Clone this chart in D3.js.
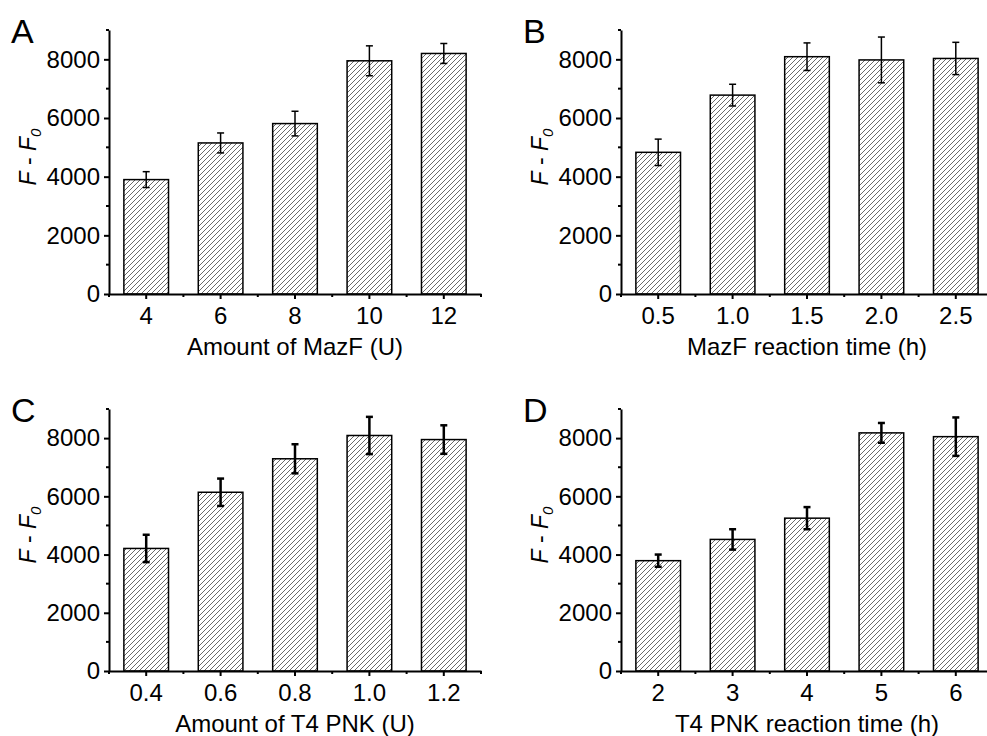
<!DOCTYPE html>
<meta charset="utf-8">
<style>
body { margin: 0; background: #fff; }
svg { display: block; font-family: "Liberation Sans", Arial, sans-serif; }
.axis path, .axis line { stroke: #000; }
</style>
<body>
<div id="chart"></div>
<script src="https://cdnjs.cloudflare.com/ajax/libs/d3/7.8.5/d3.min.js"></script>
<script>

var width = 987;
var height = 736;

// Data
var catsA = ["4", "6", "8", "10", "12"];
var valsA = [3900, 5150, 5810, 7950, 8200];
var errA  = [270, 340, 420, 510, 340];

var catsB = ["0.5", "1.0", "1.5", "2.0", "2.5"];
var valsB = [4830, 6780, 8090, 7980, 8030];
var errB  = [450, 370, 470, 780, 550];

var catsC = ["0.4", "0.6", "0.8", "1.0", "1.2"];
var valsC = [4210, 6140, 7290, 8090, 7950];
var errC  = [470, 470, 500, 640, 490];

var catsD = ["2", "3", "4", "5", "6"];
var valsD = [3790, 4520, 5250, 8180, 8050];
var errD  = [210, 350, 380, 340, 660];

var yMajor = [0, 2000, 4000, 6000, 8000];
var yMinor = [1000, 3000, 5000, 7000, 9000];

var svg = d3.select("#chart")
            .append("svg")
            .attr("width", width)
            .attr("height", height);

svg.append("rect")
   .attr("width", width).attr("height", height)
   .attr("fill", "#fff");

// hatch fill for the bars
var defs = svg.append("defs");
defs.append("pattern")
    .attr("id", "hatch")
    .attr("patternUnits", "userSpaceOnUse")
    .attr("width", 5).attr("height", 5)
    .append("path")
    .attr("d", "M-1,1 l2,-2 M0,5 l5,-5 M4,6 l2,-2")
    .attr("stroke", "#444")
    .attr("stroke-width", 0.8);

var panels = [
  {label: "A", cats: catsA, vals: valsA, err: errA, title: "Amount of MazF (U)", x0: 109, top: 30, bottom: 294, errW: 1.5},
  {label: "B", cats: catsB, vals: valsB, err: errB, title: "MazF reaction time (h)", x0: 621, top: 30, bottom: 294, errW: 1.5},
  {label: "C", cats: catsC, vals: valsC, err: errC, title: "Amount of T4 PNK (U)", x0: 109, top: 409, bottom: 671, errW: 2.5},
  {label: "D", cats: catsD, vals: valsD, err: errD, title: "T4 PNK reaction time (h)", x0: 621, top: 409, bottom: 671, errW: 2.5}
];

panels.forEach(drawPanel);

function drawPanel(p) {
  var plotW = 372;
  var g = svg.append("g");

  var x = d3.scaleBand()
            .domain(p.cats)
            .range([p.x0, p.x0 + plotW])
            .paddingInner(0.4)
            .paddingOuter(0.2);

  var y = d3.scaleLinear()
            .domain([0, 9000])
            .range([p.bottom, p.top]);

  // bars
  g.selectAll("rect.bar")
   .data(p.vals)
   .enter()
   .append("rect")
   .attr("class", "bar")
   .attr("x", function(d, i) { return x(p.cats[i]); })
   .attr("y", function(d) { return y(d); })
   .attr("width", x.bandwidth())
   .attr("height", function(d) { return y(0) - y(d); })
   .attr("fill", "url(#hatch)")
   .attr("stroke", "#000")
   .attr("stroke-width", 1.5);

  // error bars
  var cx = function(i) { return x(p.cats[i]) + x.bandwidth() / 2; };
  var eb = g.selectAll("g.err")
            .data(p.vals)
            .enter()
            .append("g")
            .attr("stroke", "#000")
            .attr("stroke-width", p.errW);
  eb.append("line")
    .attr("x1", function(d, i) { return cx(i); })
    .attr("x2", function(d, i) { return cx(i); })
    .attr("y1", function(d, i) { return y(d + p.err[i]); })
    .attr("y2", function(d, i) { return y(d - p.err[i]); });
  [1, -1].forEach(function(s) {
    eb.append("line")
      .attr("x1", function(d, i) { return cx(i) - 3.5; })
      .attr("x2", function(d, i) { return cx(i) + 3.5; })
      .attr("y1", function(d, i) { return y(d + s * p.err[i]); })
      .attr("y2", function(d, i) { return y(d + s * p.err[i]); });
  });

  // y axis
  var yAx = g.append("g")
             .attr("class", "axis")
             .attr("transform", "translate(" + p.x0 + ",0)")
             .call(d3.axisLeft(y).tickValues(yMajor).tickFormat(d3.format("d"))
                     .tickSize(5).tickSizeOuter(0).tickPadding(4));
  yAx.attr("font-size", 24).attr("font-family", null);
  yAx.select(".domain").attr("stroke-width", 2);
  yAx.selectAll(".tick line").attr("stroke-width", 2);

  g.append("g")
   .selectAll("line")
   .data(yMinor)
   .enter()
   .append("line")
   .attr("x1", p.x0 - 3).attr("x2", p.x0)
   .attr("y1", function(d) { return y(d); })
   .attr("y2", function(d) { return y(d); })
   .attr("stroke", "#000")
   .attr("stroke-width", 2);

  // x axis
  var xAx = g.append("g")
             .attr("class", "axis")
             .attr("transform", "translate(0," + p.bottom + ")")
             .call(d3.axisBottom(x).tickSize(5).tickSizeOuter(0).tickPadding(8));
  xAx.attr("font-size", 24).attr("font-family", null);
  xAx.select(".domain").attr("stroke-width", 2);
  xAx.selectAll(".tick line").attr("stroke-width", 2);

  var xMinor = d3.range(p.cats.length + 1).map(function(k) { return p.x0 + k * x.step(); });
  g.append("g")
   .selectAll("line")
   .data(xMinor)
   .enter()
   .append("line")
   .attr("x1", function(d) { return d; })
   .attr("x2", function(d) { return d; })
   .attr("y1", p.bottom).attr("y2", p.bottom + 3)
   .attr("stroke", "#000")
   .attr("stroke-width", 2);

  // axis titles
  g.append("text")
   .attr("x", p.x0 + plotW / 2)
   .attr("y", p.bottom + 61)
   .attr("text-anchor", "middle")
   .attr("font-size", 24)
   .text(p.title);

  var yt = g.append("text")
            .attr("transform", "translate(" + (p.x0 - 73) + "," + ((p.top + p.bottom) / 2 - 5) + ") rotate(-90)")
            .attr("text-anchor", "middle")
            .attr("font-size", 23);
  yt.append("tspan").attr("font-style", "italic").text("F");
  yt.append("tspan").text(" - ");
  yt.append("tspan").attr("font-style", "italic").text("F");
  yt.append("tspan").attr("font-style", "italic").attr("font-size", 15).attr("dy", 5).text("0");

  // panel letter
  g.append("text")
   .attr("x", p.x0 - 98)
   .attr("y", p.top + 13)
   .attr("font-size", 34)
   .text(p.label);
}

</script>
</body>
